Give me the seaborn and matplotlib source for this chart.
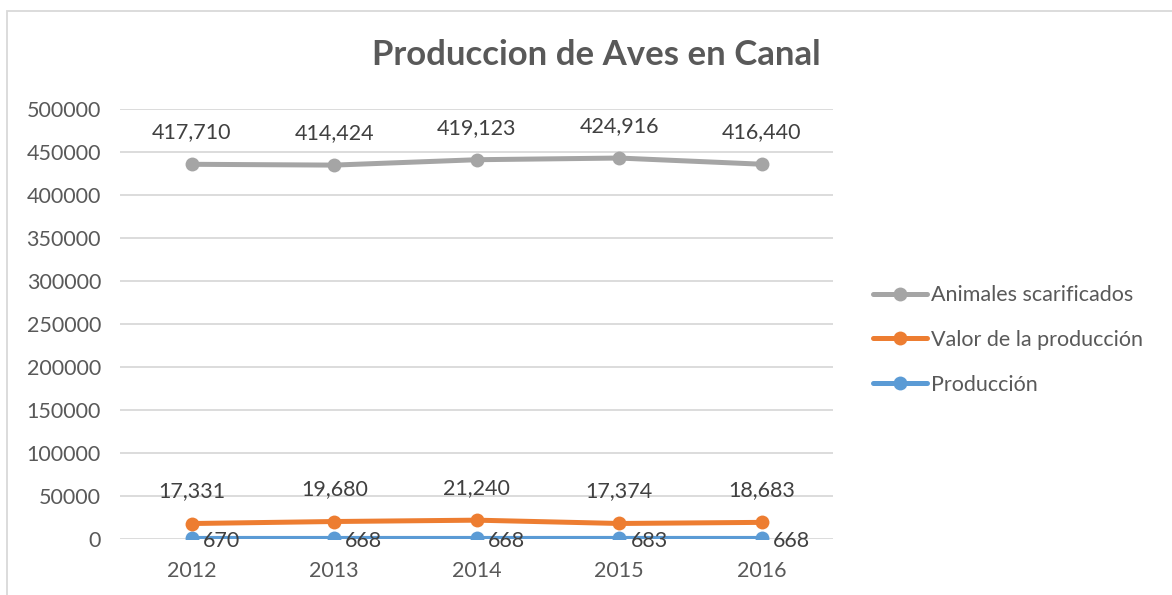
import numpy as np
import pandas as pd
import seaborn as sns
import matplotlib.pyplot as plt
from matplotlib.lines import Line2D
from matplotlib.patches import Rectangle

years = [2012, 2013, 2014, 2015, 2016]
produccion = [670, 668, 668, 683, 668]
valor_produccion = [17331, 19680, 21240, 17374, 18683]
animales = [417710, 414424, 419123, 424916, 416440]

series_names = ["Producción", "Valor de la producción", "Animales scarificados"]
series_colors = ["#5B9BD5", "#ED7D31", "#A5A5A5"]

# stacked line chart (Excel style): each series sits on top of the previous ones
values = np.array([produccion, valor_produccion, animales])
stacked = np.cumsum(values, axis=0)

rows = []
for i, name in enumerate(series_names):
    for j, yr in enumerate(years):
        rows.append({"year": yr, "serie": name, "valor": values[i, j], "acum": stacked[i, j]})
df = pd.DataFrame(rows)

sns.set_style("white")
plt.rcParams["font.family"] = ["Lato", "DejaVu Sans"]
text_color = "#595959"
fs = 15.5

fig = plt.figure(figsize=(11.72, 5.95), dpi=100)
ax = fig.add_axes([0.1028, 0.0941, 0.6080, 0.7227])

sns.lineplot(
    data=df,
    x="year",
    y="acum",
    hue="serie",
    hue_order=series_names,
    palette=series_colors,
    marker="o",
    markersize=10,
    markeredgewidth=0,
    linewidth=3.6,
    legend=False,
    ax=ax,
)

# data labels
for i, name in enumerate(series_names):
    sub = df[df["serie"] == name]
    for _, r in sub.iterrows():
        label = f"{r['valor']:,}"
        if i == 0:
            ax.annotate(label, (r["year"], r["acum"]), xytext=(8, -2),
                        textcoords="offset points", ha="left", va="center",
                        fontsize=fs, color="#404040")
        else:
            ax.annotate(label, (r["year"], r["acum"]), xytext=(0, 23),
                        textcoords="offset points", ha="center", va="center",
                        fontsize=fs, color="#404040")

ax.set_xlim(2011.5, 2016.5)
ax.set_ylim(0, 500000)
ax.set_xticks(years)
ax.set_xticklabels([str(y) for y in years])
ax.set_yticks(np.arange(0, 500001, 50000))
ax.set_yticklabels([str(v) for v in range(0, 500001, 50000)])
ax.tick_params(axis="both", length=0, labelsize=fs, colors=text_color)
ax.tick_params(axis="y", pad=14)
ax.tick_params(axis="x", pad=16)
ax.set_xlabel("")
ax.set_ylabel("")
ax.grid(axis="y", color="#D9D9D9", linewidth=1.3)
ax.set_axisbelow(True)
for s in ax.spines.values():
    s.set_visible(False)

fig.text(0.5085, 0.9076, "Produccion de Aves en Canal", ha="center", va="center",
         fontsize=25, fontweight="bold", color=text_color)

handles = [
    Line2D([0], [0], color=c, linewidth=3.6, marker="o", markersize=10,
           markeredgewidth=0, label=n)
    for n, c in zip(series_names, series_colors)
][::-1]
leg = ax.legend(
    handles=handles,
    loc="center left",
    bbox_to_anchor=(0.745, 0.4286),
    bbox_transform=fig.transFigure,
    frameon=False,
    fontsize=fs,
    handlelength=2.5,
    handletextpad=0.2,
    labelspacing=1.15,
    borderpad=0,
    borderaxespad=0,
)
for t in leg.get_texts():
    t.set_color(text_color)

# chart area border (cropped at right and bottom)
fig.patches.append(Rectangle((7 / 1172, -0.1), 1.2, 1.1 - 11 / 595,
                             transform=fig.transFigure, fill=False,
                             edgecolor="#D9D9D9", linewidth=1.3))

fig.savefig("out.png", dpi=100)
